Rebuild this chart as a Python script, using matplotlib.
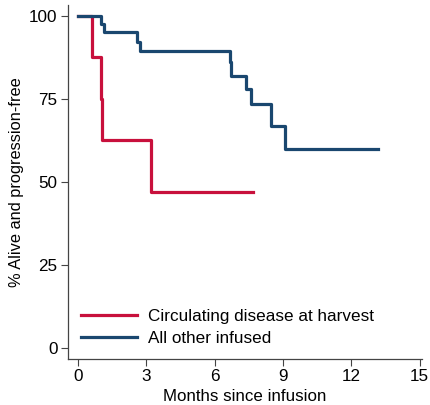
import matplotlib
matplotlib.use("Agg")
import matplotlib.pyplot as plt

# Kaplan-Meier step curves (months, % alive and progression-free)
circ_t = [0, 0.63, 1.0, 1.04, 3.21, 7.67]
circ_s = [100, 87.5, 75, 62.5, 46.9, 46.9]

other_t = [0, 1.01, 1.16, 2.61, 2.70, 6.66, 6.72, 7.38, 7.60, 8.48, 9.08, 13.18]
other_s = [100, 97.6, 95.1, 92.3, 89.5, 86.0, 81.8, 78.0, 73.4, 66.8, 60.0, 60.0]

x_ticks = [0, 3, 6, 9, 12, 15]
y_ticks = [0, 25, 50, 75, 100]

red = "#C8103C"
navy = "#1A476F"

plt.rcParams['font.family'] = ['Liberation Sans', 'DejaVu Sans']

fig = plt.figure(figsize=(4.3, 4.05), dpi=100)
ax = fig.add_axes([68 / 430, 46 / 405, 354 / 430, 354 / 405])

ax.step(circ_t, circ_s, where='post', color=red, lw=2.3, label='Circulating disease at harvest')
ax.step(other_t, other_s, where='post', color=navy, lw=2.3, label='All other infused')

ax.set_xlim(-0.44, 15.1)
ax.set_ylim(-3.3, 103.3)
ax.set_xticks(x_ticks)
ax.set_yticks(y_ticks)
ax.tick_params(labelsize=12.3, color='#444444', length=5, width=0.8, pad=2.5)
ax.spines['top'].set_visible(False)
ax.spines['right'].set_visible(False)
for s in ('left', 'bottom'):
    ax.spines[s].set_color('#444444')
    ax.spines[s].set_linewidth(0.9)

ax.set_xlabel('Months since infusion', fontsize=12.2, labelpad=3)
ax.set_ylabel('% Alive and progression-free', fontsize=11.8, labelpad=4, y=0.5)

ax.legend(loc='lower left', frameon=False, fontsize=12.3, handlelength=3.3,
          handletextpad=0.65, labelspacing=0.45,
          bbox_to_anchor=(-0.008, -0.008), borderaxespad=0.5)

fig.savefig('out.png', dpi=100)
